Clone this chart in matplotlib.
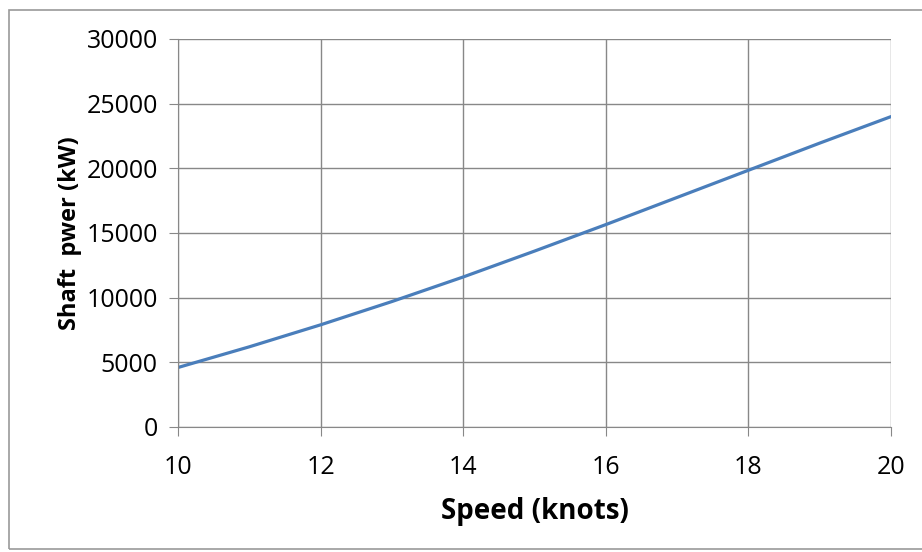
import matplotlib
matplotlib.use('Agg')
import matplotlib.pyplot as plt
from matplotlib.patches import Rectangle

# === DATA ===
speed_knots = [10, 11, 12, 13, 14, 15, 16, 17, 18, 19, 20]
shaft_power_kw = [4600, 6200, 7900, 9700, 11600, 13600, 15650, 17750, 19850, 21950, 24000]
x_ticks = [10, 12, 14, 16, 18, 20]
y_ticks = [0, 5000, 10000, 15000, 20000, 25000, 30000]

# === STYLE ===
LINE_COLOR = '#4a7ebb'
GRID_COLOR = '#888888'
plt.rcParams['font.family'] = ['Open Sans', 'DejaVu Sans']

fig = plt.figure(figsize=(9.22, 5.52), dpi=100)
ax = fig.add_axes([178 / 922, 1 - 427 / 552, (891 - 178) / 922, (427 - 39) / 552])

ax.plot(speed_knots, shaft_power_kw, color=LINE_COLOR, linewidth=2.3, solid_capstyle='round')

ax.set_xlim(10, 20)
ax.set_ylim(0, 30000)
ax.set_xticks(x_ticks)
ax.set_yticks(y_ticks)
ax.grid(True, color=GRID_COLOR, linewidth=1.0)
ax.set_axisbelow(True)
for side in ['top', 'right']:
    ax.spines[side].set_visible(False)
for side in ['left', 'bottom']:
    ax.spines[side].set_color(GRID_COLOR)
ax.tick_params(axis='both', colors=GRID_COLOR, length=6.5, labelcolor='black', labelsize=18)
ax.tick_params(axis='x', pad=14)
ax.tick_params(axis='y', pad=8)

ax.set_xlabel('Speed (knots)', fontsize=20, fontweight='bold', labelpad=12)
ax.set_ylabel('Shaft  pwer (kW)', fontsize=17, fontweight='bold', labelpad=3)

# outer chart border
fig.patches.append(Rectangle((9 / 922, 3 / 552), 1.0, 1 - 13 / 552, transform=fig.transFigure,
                             fill=False, edgecolor='#999999', linewidth=1.2, clip_on=False))

fig.savefig('out.png', dpi=100)
